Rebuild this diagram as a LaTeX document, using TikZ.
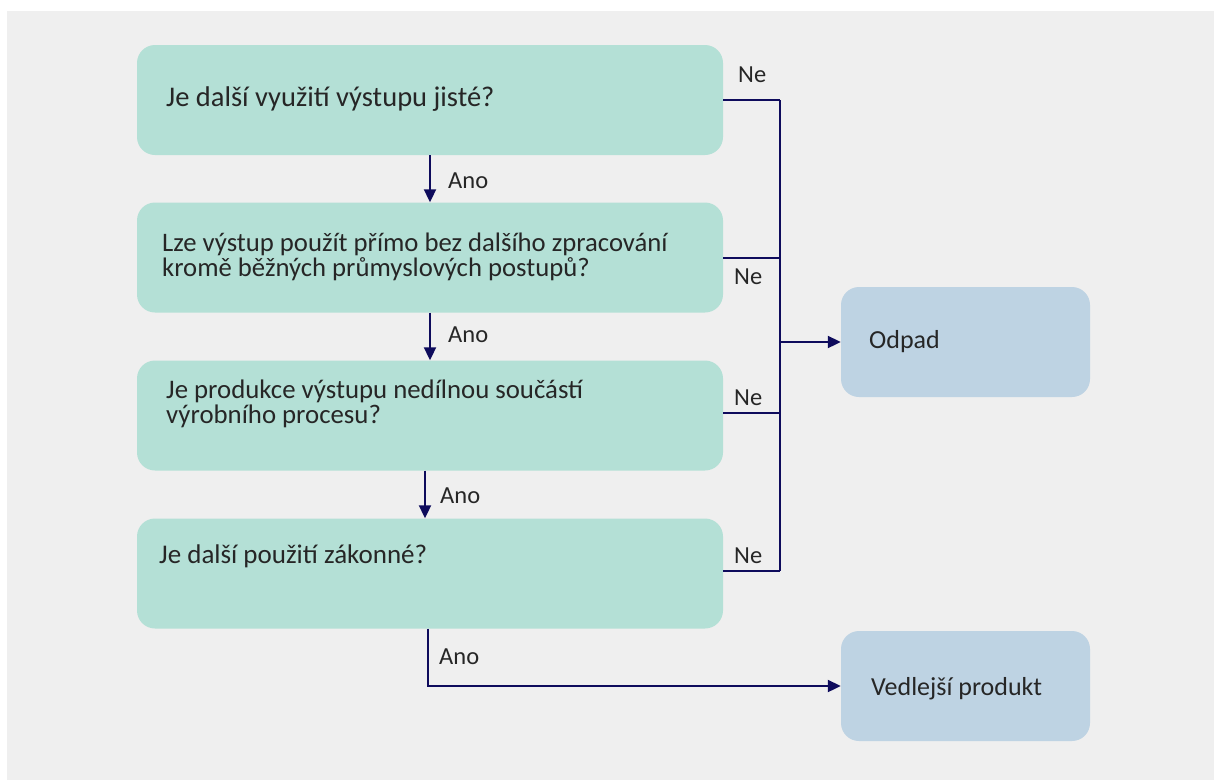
\documentclass[tikz,border=0pt]{standalone}
\usepackage{fontspec}
\setmainfont{Carlito}
\usepackage{xcolor}
\usetikzlibrary{arrows.meta}
\usetikzlibrary{positioning}

\definecolor{bggrey}{HTML}{EFEFEF}
\definecolor{qgreen}{HTML}{B4E0D6}
\definecolor{rblue}{HTML}{BED3E3}
\definecolor{navy}{HTML}{0E0B5C}
\definecolor{ink}{HTML}{262626}

\newcommand{\fs}[2]{\fontsize{#1}{#2}\selectfont}

\tikzset{
    qbox/.style={fill=qgreen, rounded corners=18pt, minimum width=586pt,
        minimum height=110pt, inner sep=0pt},
    rbox/.style={fill=rblue, rounded corners=18pt, minimum width=249pt,
        minimum height=110pt, inner sep=0pt},
    txt/.style={anchor=base west, inner sep=0pt, text=ink, align=left,
        font=\fs{24.5}{25}},
    flow/.style={draw=navy, line width=2pt},
    tip/.style={-{Triangle[length=13pt,width=12pt]}}
}

\begin{document}
\begin{tikzpicture}[x=1pt, y=-1pt]

    \useasboundingbox (0,0) rectangle (1214,780);
    \fill[white] (0,0) rectangle (1214,780);
    \fill[bggrey] (7,11) rectangle (1214,780);

    % questions
    \node[qbox] (q1) at (430,100) {};
    \node[qbox] (q2) at (430,257.5) {};
    \node[qbox] (q3) at (430,415.5) {};
    \node[qbox] (q4) at (430,573.5) {};

    % results
    \node[rbox] (waste) at (965.5,342) {};
    \node[rbox] (product) at (965.5,686) {};

    % texts (base = last line)
    \node[txt, font=\fs{28.5}{30}] (t1) at (166,106) {Je další využití výstupu jisté?};
    \node[txt, font=\fs{26.7}{25}] (t2) at (162,276)
    {Lze výstup použít přímo bez dalšího zpracování\\kromě běžných průmyslových postupů?};
    \node[txt, font=\fs{26.8}{25}] (t3) at (166,423)
    {Je produkce výstupu nedílnou součástí\\výrobního procesu?};
    \node[txt, font=\fs{27}{28}] (t4) at (159,563) {Je další použití zákonné?};
    \node[txt, font=\fs{26}{27}] (t5) at (869,348) {Odpad};
    \node[txt, font=\fs{26}{27}] (t6) at (871,695) {Vedlejší produkt};

    % labels
    \node[txt] (ne1) at (738,82) {Ne};
    \node[txt] (ne2) at (734,284) {Ne};
    \node[txt] (ne3) at (734,405) {Ne};
    \node[txt] (ne4) at (734,563) {Ne};
    \node[txt] (ano1) at (448,188) {Ano};
    \node[txt] (ano2) at (448,342) {Ano};
    \node[txt] (ano3) at (440,503) {Ano};
    \node[txt] (ano4) at (439,664) {Ano};

    \coordinate (bus) at (780,0);

    \begin{scope}[flow]
        \draw (q1.east) -- (q1.east -| bus);
        \draw (q2.east) -- (q2.east -| bus);
        \draw ([yshift=3pt]q3.east) -- ([yshift=3pt]q3.east -| bus);
        \draw ([yshift=3pt]q4.east) -- ([yshift=3pt]q4.east -| bus);
        \draw (q1.east -| bus) -- ([yshift=3pt]q4.east -| bus);
        \draw[tip] (bus |- waste.west) -- (waste.west);
        \draw[tip] (q1.south) -- (q2.north);
        \draw[tip] (q2.south) -- (q3.north);
        \draw[tip] ([xshift=-5pt]q3.south) -- ([xshift=-5pt]q4.north);
        \draw[tip] ([xshift=-2pt]q4.south) |- (product.west);
    \end{scope}

\end{tikzpicture}
\end{document}
